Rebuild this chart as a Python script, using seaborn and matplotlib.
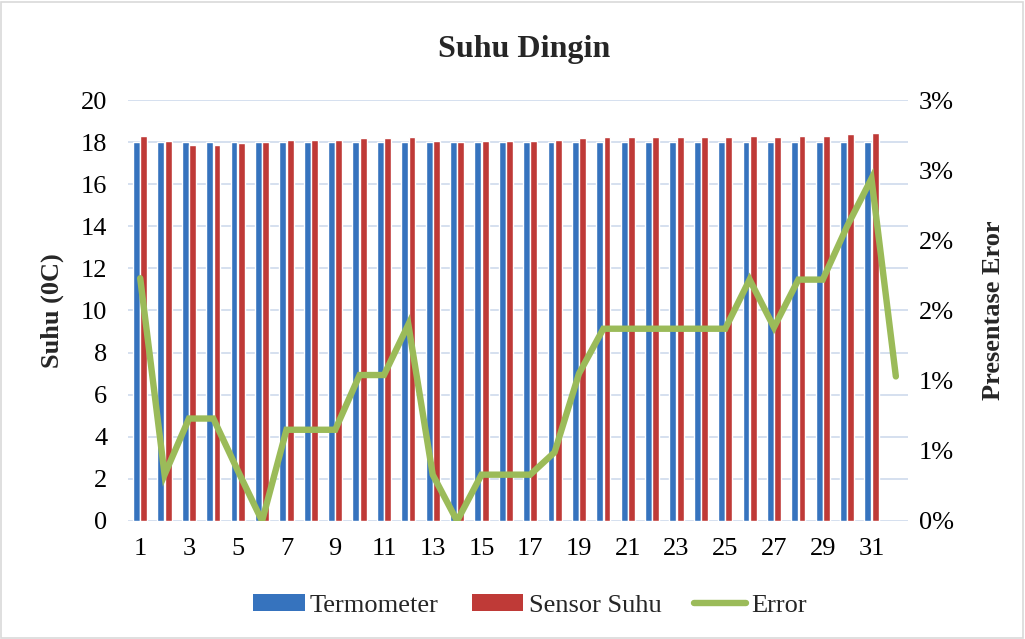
import numpy as np
import pandas as pd
import seaborn as sns
from matplotlib import pyplot as plt
from matplotlib.patches import Patch, Rectangle
from matplotlib.lines import Line2D

# data
days = list(range(1, 33))
termometer = [18.0] * 31
sensor_suhu = [18.29, 18.05, 17.86, 17.86, 17.97, 18.00, 18.10, 18.10, 18.10, 18.19,
               18.19, 18.24, 18.05, 18.00, 18.05, 18.05, 18.05, 18.10, 18.19, 18.24,
               18.24, 18.24, 18.24, 18.24, 18.24, 18.29, 18.24, 18.29, 18.29, 18.38,
               18.43]
error_pct = [1.73, 0.33, 0.73, 0.73, 0.36, 0.00, 0.65, 0.65, 0.65, 1.04,
             1.04, 1.40, 0.33, 0.00, 0.33, 0.33, 0.33, 0.49, 1.05, 1.37,
             1.37, 1.37, 1.37, 1.37, 1.37, 1.72, 1.38, 1.72, 1.72, 2.10,
             2.44, 1.03]
right_ticks = [0, 0.005, 0.01, 0.015, 0.02, 0.025, 0.03]
right_labels = ["0%", "1%", "1%", "2%", "2%", "3%", "3%"]

blue = "#3673BE"
red = "#BF3A37"
green = "#9BBB59"
grid_col = "#D5E0EF"

sns.set_theme(style="white")
plt.rcParams['font.family'] = ['Liberation Serif', 'DejaVu Serif']

order = [str(d) for d in days]
df = pd.DataFrame({
    "Hari": [str(d) for d in days[:31]] * 2,
    "Suhu": termometer + sensor_suhu,
    "Seri": ["Termometer"] * 31 + ["Sensor Suhu"] * 31,
})

fig = plt.figure(figsize=(10.25, 6.39), dpi=100)
ax = fig.add_axes([0.1249, 0.1847, 0.761, 0.6588])

sns.barplot(data=df, x="Hari", y="Suhu", hue="Seri", order=order,
            palette=[blue, red], width=0.6, gap=0.06, saturation=1,
            legend=False, ax=ax)

ax.set_ylim(0, 20)
ax.set_yticks(range(0, 21, 2))
ax.yaxis.grid(True, color=grid_col, linewidth=1.4)
ax.set_axisbelow(True)
ax.set_xticks(range(0, 32, 2))
ax.set_xticklabels([str(d) for d in days[::2]])
ax.tick_params(axis='both', length=0, labelsize=19, colors="black")
ax.tick_params(axis='y', pad=15)
ax.tick_params(axis='x', pad=12)
ax.set_xlabel("")
ax.set_ylabel("Suhu (0C)", fontsize=19, fontweight="bold", labelpad=12)
for s in ax.spines.values():
    s.set_visible(False)

ax2 = ax.twinx()
sns.lineplot(x=np.arange(len(days)), y=np.array(error_pct) / 100, ax=ax2,
             color=green, linewidth=4.6, solid_capstyle="round", solid_joinstyle="miter")
ax2.set_ylim(0, 0.03)
ax2.set_yticks(right_ticks)
ax2.set_yticklabels(right_labels)
ax2.tick_params(axis='y', length=0, labelsize=19, pad=8, colors="black")
ax2.set_ylabel("Presentase Eror", fontsize=19, fontweight="bold", labelpad=20)
for s in ax2.spines.values():
    s.set_visible(False)
ax.set_xlim(-0.5, 31.5)

fig.text(0.511, 0.922, "Suhu Dingin", ha="center", va="center",
         fontsize=23, fontweight="bold")

handles = [Patch(facecolor=blue, edgecolor="none"),
           Patch(facecolor=red, edgecolor="none"),
           Line2D([0], [0], color=green, linewidth=4.6, solid_capstyle="round")]
fig.legend(handles, ["Termometer", "Sensor Suhu", "Error"], loc="center",
           bbox_to_anchor=(0.517, 0.052), ncol=3, frameon=False, fontsize=19,
           handlelength=1.95, handleheight=0.6, handletextpad=0.2, columnspacing=1.25)

fig.patches.append(Rectangle((0.001, 0.002), 0.997, 0.995, transform=fig.transFigure,
                             fill=False, edgecolor="#D9D9D9", linewidth=1.2))

fig.savefig("out.png", dpi=100)
